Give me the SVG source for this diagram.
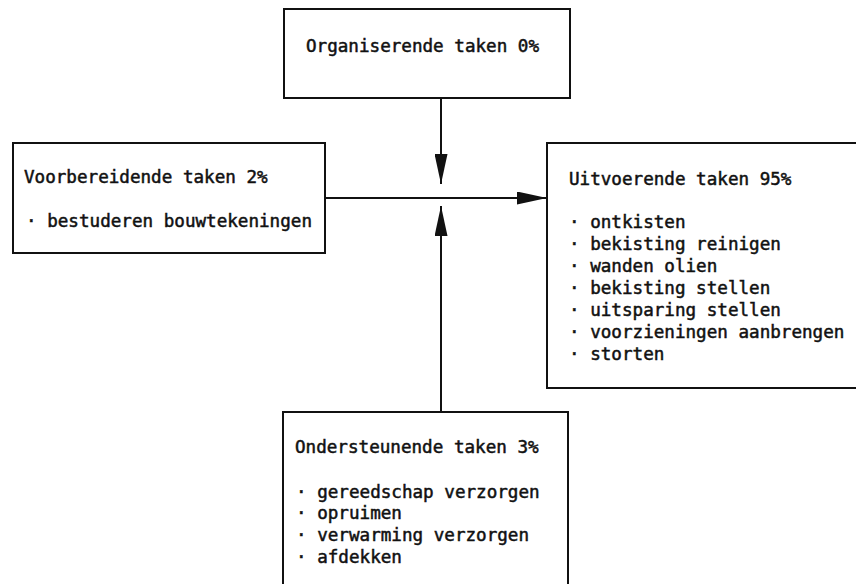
<svg xmlns="http://www.w3.org/2000/svg" width="856" height="584" viewBox="0 0 856 584">
<defs>
<style>
.box{fill:#fff;stroke:#111;stroke-width:2}
.t{font-family:"DejaVu Sans Mono","Liberation Mono",monospace;font-size:17.6px;fill:#111;stroke:#111;stroke-width:0.5}
.ln{stroke:#111;stroke-width:2;fill:none}
</style>
<marker id="ah" viewBox="0 0 30 13" refX="30" refY="6.5" markerWidth="30" markerHeight="13" markerUnits="userSpaceOnUse" orient="auto">
<path d="M0,0 L30,6.5 L0,13 Z" fill="#111"/>
</marker>
</defs>
<rect width="856" height="584" fill="#fff"/>
<g id="connectors">
<line class="ln" x1="441" y1="98" x2="441" y2="184" marker-end="url(#ah)"/>
<line class="ln" x1="441" y1="412" x2="441" y2="206" marker-end="url(#ah)"/>
<line class="ln" x1="325" y1="198" x2="547" y2="198" marker-end="url(#ah)"/>
</g>
<g id="organiserend">
<rect class="box" x="284" y="9" width="286" height="89"/>
<text class="t" x="306" y="52">Organiserende taken 0%</text>
</g>
<g id="voorbereidend">
<rect class="box" x="13" y="143" width="312" height="110"/>
<text class="t" x="24" y="183">Voorbereidende taken 2%</text>
<text class="t" x="26" y="227">· bestuderen bouwtekeningen</text>
</g>
<g id="uitvoerend">
<rect class="box" x="547" y="143" width="320" height="245"/>
<text class="t" x="569" y="185">Uitvoerende taken 95%</text>
<text class="t" x="569" y="228">· ontkisten</text>
<text class="t" x="569" y="250">· bekisting reinigen</text>
<text class="t" x="569" y="272">· wanden olien</text>
<text class="t" x="569" y="294">· bekisting stellen</text>
<text class="t" x="569" y="316">· uitsparing stellen</text>
<text class="t" x="569" y="338">· voorzieningen aanbrengen</text>
<text class="t" x="569" y="360">· storten</text>
</g>
<g id="ondersteunend">
<rect class="box" x="283" y="412" width="285" height="200"/>
<text class="t" x="295" y="453">Ondersteunende taken 3%</text>
<text class="t" x="296" y="498">· gereedschap verzorgen</text>
<text class="t" x="296" y="519">· opruimen</text>
<text class="t" x="296" y="541">· verwarming verzorgen</text>
<text class="t" x="296" y="563">· afdekken</text>
</g>
</svg>
